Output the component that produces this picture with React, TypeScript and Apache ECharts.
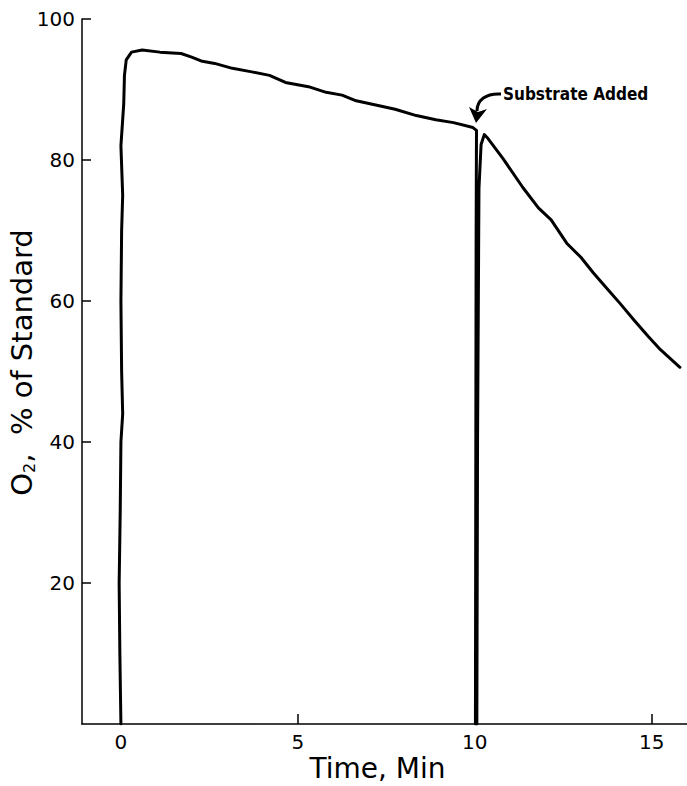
import React, { useEffect, useRef } from "react";
import * as echarts from "echarts";

// Oxygen trace: [time (min), O2 % of standard]
const timeMin: number[] = [
  0.0, -0.03, -0.05, -0.02, 0.0, 0.05, 0.02, 0.0, 0.02, 0.05, 0.0, 0.08, 0.1, 0.15, 0.3, 0.6,
  1.1, 1.7, 2.0, 2.3, 2.65, 3.15, 3.7, 4.2, 4.65, 5.3, 5.8, 6.25, 6.65, 7.3, 7.75, 8.35,
  8.9, 9.4, 9.95, 10.05, 10.04, 10.02, 10.06, 10.08, 10.12, 10.18, 10.27, 10.35, 10.8,
  11.36, 11.8, 12.16, 12.6, 13.0, 13.35, 13.7, 14.1, 14.5, 14.9, 15.25, 15.8,
];
const o2Percent: number[] = [
  0, 10, 20, 30, 40, 44, 50, 60, 70, 75, 82, 88, 92, 94.2, 95.3, 95.6,
  95.3, 95.1, 94.6, 94.0, 93.7, 93.0, 92.5, 92.0, 91.0, 90.4, 89.6, 89.2, 88.4, 87.7, 87.2, 86.3,
  85.7, 85.3, 84.6, 84.2, 70, 0, 0, 40, 76, 82.2, 83.6, 83.2, 80.2,
  76.1, 73.2, 71.5, 68.2, 66.2, 64.0, 62.0, 59.7, 57.3, 55.0, 53.1, 50.6,
];
const xTicks: number[] = [0, 5, 10, 15];
const yTicks: number[] = [20, 40, 60, 80, 100];
const xTitle = "Time, Min";
const annotationText = "Substrate Added";

export default function App() {
  const ref = useRef<HTMLDivElement>(null);
  useEffect(() => {
    document.body.style.margin = "0";
    const chart = echarts.init(ref.current!, undefined, { renderer: "svg" });
    const data = timeMin.map((t, i) => [t, o2Percent[i]]);
    const font = "DejaVu Sans";
    chart.setOption({
      animation: false,
      backgroundColor: "#ffffff",
      grid: { left: 82, right: 0, top: 19, bottom: 62, containLabel: false, outerBoundsMode: "none" },
      xAxis: {
        type: "value",
        min: -1.1,
        max: 16,
        name: xTitle,
        nameLocation: "middle",
        nameGap: 30,
        nameMoveOverlap: false,
        nameTextStyle: { fontFamily: font, fontSize: 28, color: "#000", padding: [0, 14, 0, 0] },
        axisLine: { onZero: false, lineStyle: { color: "#000", width: 1.5 } },
        axisTick: { inside: true, length: 10, customValues: xTicks, lineStyle: { color: "#000", width: 1.5 } },
        axisLabel: { customValues: xTicks, fontFamily: font, fontSize: 20, color: "#000", margin: 8 },
        splitLine: { show: false },
      },
      yAxis: {
        type: "value",
        min: 0,
        max: 100,
        name: "{a|O}{s|2}{a|,  % of Standard}",
        nameLocation: "middle",
        nameGap: 45,
        nameMoveOverlap: false,
        nameTextStyle: {
          color: "#000",
          padding: [0, 0, 0, 18],
          rich: {
            a: { fontFamily: font, fontSize: 29, color: "#000" },
            s: { fontFamily: font, fontSize: 16, color: "#000", verticalAlign: "bottom", padding: [14, 0, 0, 0] },
          },
        },
        axisLine: { show: true, onZero: false, lineStyle: { color: "#000", width: 1.5 } },
        axisTick: { inside: true, length: 9, customValues: yTicks, lineStyle: { color: "#000", width: 1.5 } },
        axisLabel: { customValues: yTicks, fontFamily: font, fontSize: 20, color: "#000", margin: 7 },
        splitLine: { show: false },
      },
      series: [
        {
          type: "line",
          data,
          showSymbol: false,
          smooth: false,
          lineStyle: { color: "#000", width: 3, join: "round", cap: "round" },
          z: 3,
        },
      ],
      graphic: [
        {
          type: "text",
          left: 503,
          top: 85,
          style: {
            text: annotationText,
            fontFamily: "DejaVu Sans Condensed",
            fontWeight: "bold",
            fontSize: 17,
            fill: "#000",
          },
        },
        {
          type: "bezierCurve",
          shape: { x1: 501, y1: 94, cpx1: 486, cpy1: 93, cpx2: 477, cpy2: 100, x2: 477, y2: 111 },
          style: { stroke: "#000", lineWidth: 3, fill: "none" },
        },
        {
          type: "polygon",
          shape: { points: [[469, 107], [476, 123], [487, 109], [478, 112]] },
          style: { fill: "#000" },
        },
      ],
    });
    return () => chart.dispose();
  }, []);
  return (
    <div
      ref={ref}
      style={{ position: "absolute", left: 0, top: 0, width: 687, height: 786 }}
    />
  );
}
